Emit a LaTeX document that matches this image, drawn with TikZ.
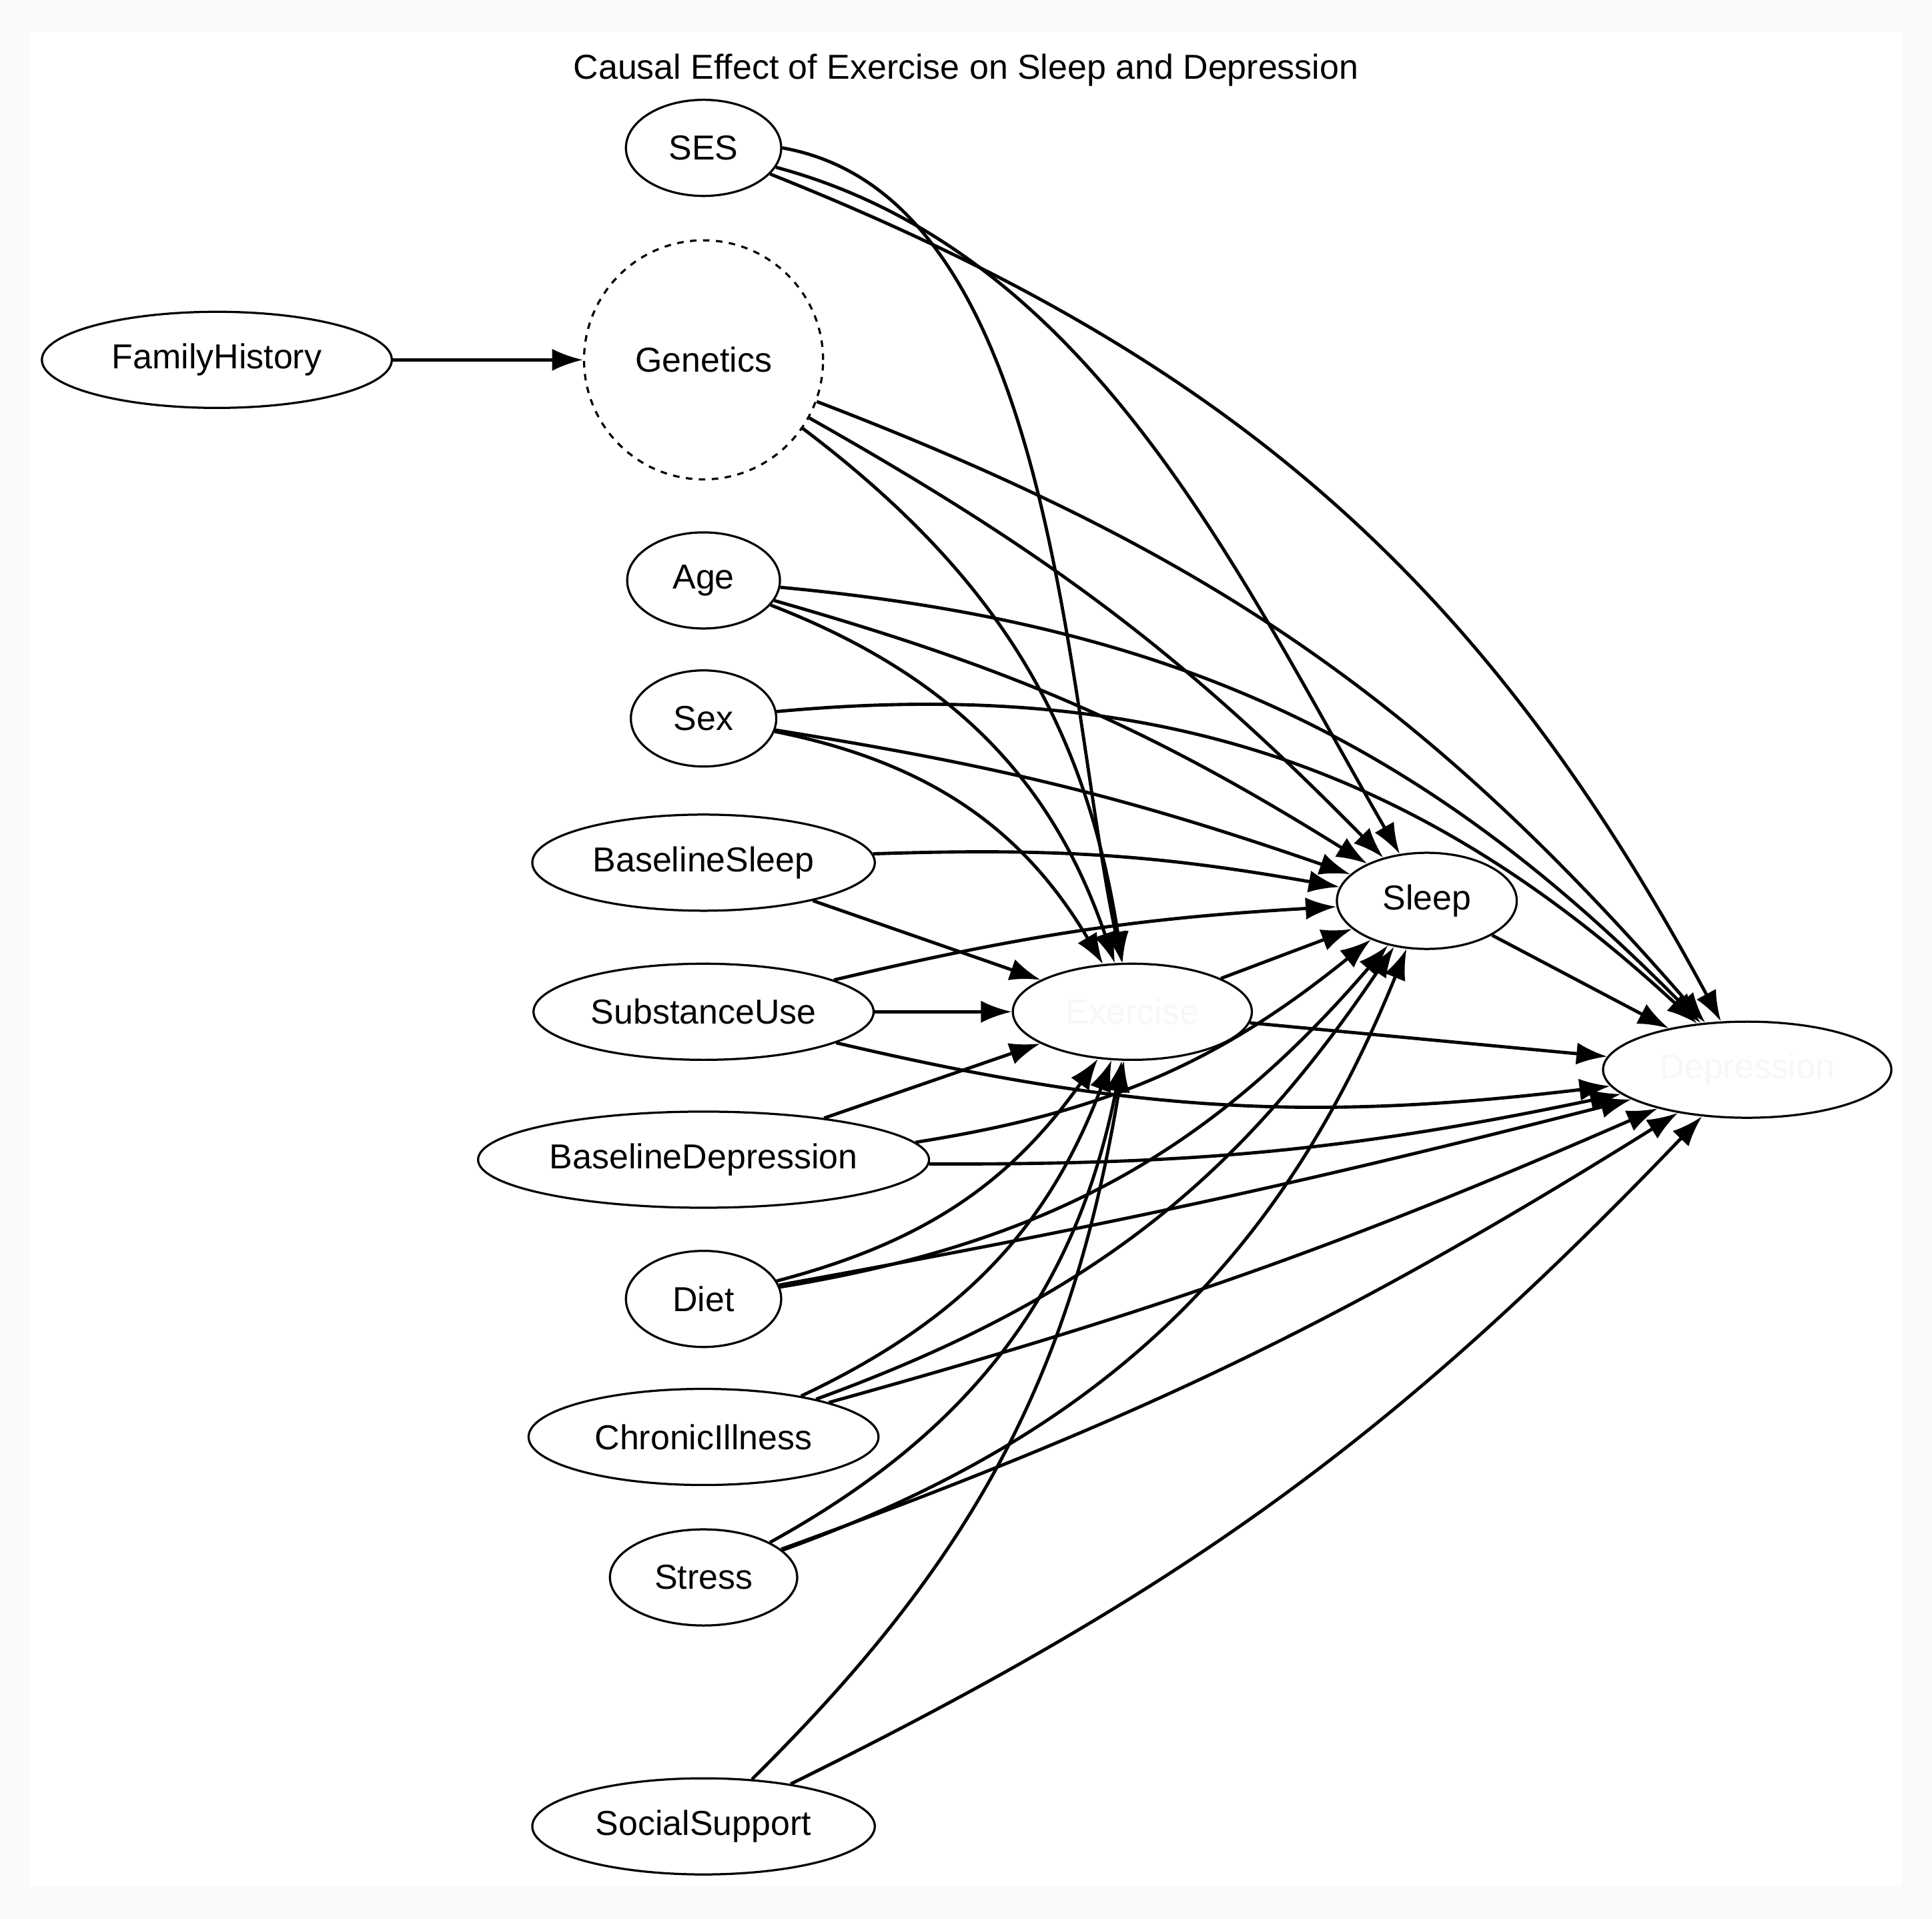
\documentclass[tikz,border=0pt]{standalone}
\usepackage{fontspec}
\setmainfont{Liberation Sans}
\usetikzlibrary{arrows.meta,shapes.geometric}
\begin{document}
\begin{tikzpicture}[x=0.02cm,y=-0.02cm,
  v/.style={draw,ellipse,line width=1pt,inner sep=0pt,font=\fontsize{16}{18}\selectfont},
  e/.style={line width=1.5pt,-{Latex[length=5mm,width=3.6mm]}},
  faint/.style={text=black!3}]
\fill[black!2] (0,0) rectangle (1568,1557);
\fill[white] (24,26) rectangle (1544,1530);
\useasboundingbox (0,0) rectangle (1568,1557);
\node[font=\fontsize{16}{18}\selectfont] (title) at (784,57) {Causal Effect of Exercise on Sleep and Depression};
\node[v,minimum width=126*0.02cm,minimum height=78*0.02cm] (SES) at (571,120) {SES};
\node[draw,circle,dashed,line width=1pt,minimum size=194*0.02cm,font=\fontsize{16}{18}\selectfont] (Gen) at (571,292) {Genetics};
\node[v,minimum width=284*0.02cm,minimum height=78*0.02cm] (FH) at (176,292) {FamilyHistory};
\node[v,minimum width=124*0.02cm,minimum height=78*0.02cm] (Age) at (571,471) {Age};
\node[v,minimum width=118*0.02cm,minimum height=78*0.02cm] (Sex) at (571,583) {Sex};
\node[v,minimum width=278*0.02cm,minimum height=78*0.02cm] (BS) at (571,700) {BaselineSleep};
\node[v,minimum width=276*0.02cm,minimum height=78*0.02cm] (SU) at (571,821) {SubstanceUse};
\node[v,minimum width=366*0.02cm,minimum height=78*0.02cm] (BD) at (571,941) {BaselineDepression};
\node[v,minimum width=126*0.02cm,minimum height=78*0.02cm] (Diet) at (571,1054) {Diet};
\node[v,minimum width=284*0.02cm,minimum height=78*0.02cm] (CI) at (571,1166) {ChronicIllness};
\node[v,minimum width=152*0.02cm,minimum height=78*0.02cm] (Str) at (571,1280) {Stress};
\node[v,minimum width=278*0.02cm,minimum height=78*0.02cm] (SS) at (571,1482) {SocialSupport};
\node[v,faint,minimum width=194*0.02cm,minimum height=78*0.02cm] (Ex) at (919,821) {Exercise};
\node[v,minimum width=146*0.02cm,minimum height=78*0.02cm] (Sl) at (1158,731) {Sleep};
\node[v,faint,minimum width=234*0.02cm,minimum height=78*0.02cm] (Dep) at (1418,868) {Depression};

\draw[e] (FH) -- (Gen);
\draw[e] (SES.east) to[out=-10,in=102,looseness=0.8] (Ex);
\draw[e] (SES) to[out=-15,in=120,looseness=0.9] (Sl);
\draw[e] (SES) to[bend left=20] (Dep);
\draw[e] (Gen) to[bend left=22] (Ex);
\draw[e] (Gen) to[bend left=8] (Sl);
\draw[e] (Gen) to[bend left=14] (Dep);
\draw[e] (Age) to[bend left=25] (Ex);
\draw[e] (Age) to[bend left=8] (Sl);
\draw[e] (Age) to[bend left=20] (Dep);
\draw[e] (Sex) to[bend left=24] (Ex);
\draw[e] (Sex) to[bend left=5] (Sl);
\draw[e] (Sex) to[bend left=24] (Dep);
\draw[e] (BS) -- (Ex);
\draw[e] (BS) to[bend left=6] (Sl);
\draw[e] (SU) -- (Ex);
\draw[e] (SU) to[bend left=5] (Sl);
\draw[e] (SU) to[bend right=10] (Dep);
\draw[e] (BD) -- (Ex);
\draw[e] (BD) to[bend right=15] (Sl);
\draw[e] (BD) to[bend right=6] (Dep);
\draw[e] (Diet) to[bend right=20] (Ex);
\draw[e] (Diet) to[bend right=20] (Sl);
\draw[e] (Diet) to[bend right=2] (Dep);
\draw[e] (CI) to[bend right=22] (Ex);
\draw[e] (CI) to[bend right=18] (Sl);
\draw[e] (CI) to[bend right=4] (Dep);
\draw[e] (Str) to[bend right=25] (Ex);
\draw[e] (Str) to[bend right=24] (Sl);
\draw[e] (Str) to[bend right=6] (Dep);
\draw[e] (SS) to[bend right=18] (Ex);
\draw[e] (SS) to[bend right=10] (Dep);
\draw[e] (Ex) -- (Sl);
\draw[e] (Ex) -- (Dep);
\draw[e] (Sl) -- (Dep);
\end{tikzpicture}
\end{document}
